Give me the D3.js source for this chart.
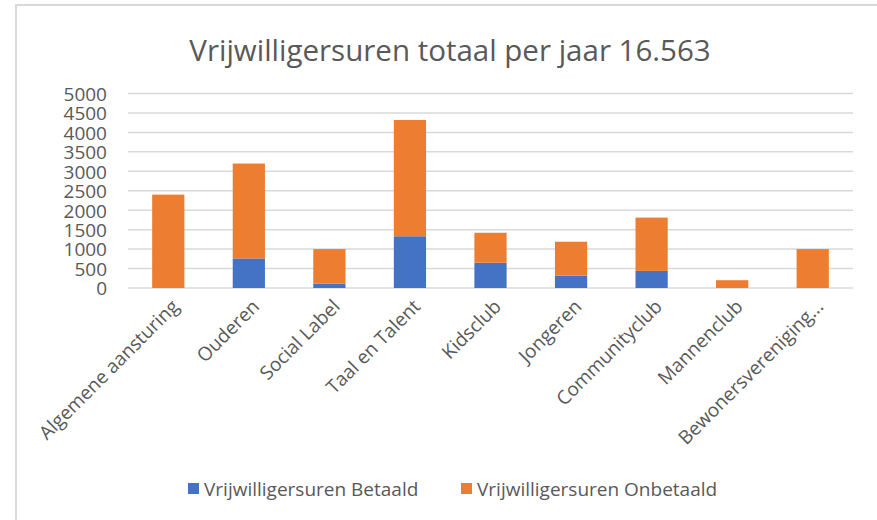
<!DOCTYPE html>
<html>
<head>
<meta charset="utf-8">
<script src="https://cdn.jsdelivr.net/npm/d3@7"></script>
<style>
  body { margin: 0; background: #fff; }
  text { font-family: "Open Sans", sans-serif; fill: #595959; }
</style>
</head>
<body>
<div id="chart"></div>
<script>
const categories = ["Algemene aansturing", "Ouderen", "Social Label", "Taal en Talent", "Kidsclub",
  "Jongeren", "Communityclub", "Mannenclub", "Bewonersvereniging..."];
const betaald = [0, 760, 110, 1330, 650, 320, 440, 0, 0];
const onbetaald = [2400, 2440, 890, 2990, 770, 870, 1370, 200, 1000];
const seriesNames = ["Vrijwilligersuren Betaald", "Vrijwilligersuren Onbetaald"];
const yTicks = d3.range(0, 5001, 500);

const width = 877;
const height = 520;
const margin = { top: 93.5, right: 24, bottom: 232, left: 128 };
const colors = ["#4472C4", "#ED7D31"];

const svg = d3.select("#chart")
  .append("svg")
  .attr("width", width)
  .attr("height", height);

// chart border (only top and left visible)
svg.append("rect")
  .attr("x", 16)
  .attr("y", 5)
  .attr("width", width + 20)
  .attr("height", height + 20)
  .attr("fill", "none")
  .attr("stroke", "#d9d9d9")
  .attr("stroke-width", 2);

svg.append("text")
  .attr("x", 450)
  .attr("y", 61)
  .attr("text-anchor", "middle")
  .style("font-size", "29.5px")
  .text("Vrijwilligersuren totaal per jaar 16.563");

const xScale = d3.scaleBand()
  .domain(categories)
  .range([margin.left, width - margin.right])
  .paddingInner(0.6)
  .paddingOuter(0.3);

const yScale = d3.scaleLinear()
  .domain([0, 5000])
  .range([height - margin.bottom, margin.top]);

// gridlines
svg.append("g")
  .selectAll("line")
  .data(yTicks)
  .enter()
  .append("line")
  .attr("x1", margin.left)
  .attr("x2", width - margin.right)
  .attr("y1", d => yScale(d))
  .attr("y2", d => yScale(d))
  .attr("stroke", "#d9d9d9")
  .attr("stroke-width", 1.5);

const yAxis = d3.axisLeft(yScale)
  .tickValues(yTicks)
  .tickFormat(d3.format("d"))
  .tickSize(0)
  .tickPadding(21);

svg.append("g")
  .attr("transform", `translate(${margin.left}, 0)`)
  .call(yAxis)
  .call(g => g.select(".domain").remove())
  .selectAll("text")
  .style("font-size", "19px")
  .style("font-family", "'Open Sans', sans-serif")
  .style("fill", "#595959")
  .attr("dy", "0.36em");

const rows = categories.map((c, i) => ({ category: c, betaald: betaald[i], onbetaald: onbetaald[i] }));
const stacked = d3.stack().keys(["betaald", "onbetaald"])(rows);

svg.append("g")
  .selectAll("g")
  .data(stacked)
  .enter()
  .append("g")
  .attr("fill", (d, i) => colors[i])
  .selectAll("rect")
  .data(d => d)
  .enter()
  .append("rect")
  .attr("x", d => xScale(d.data.category))
  .attr("y", d => yScale(d[1]))
  .attr("width", xScale.bandwidth())
  .attr("height", d => yScale(d[0]) - yScale(d[1]));

// category labels
svg.append("g")
  .selectAll("text")
  .data(categories)
  .enter()
  .append("text")
  .attr("transform", d => `translate(${xScale(d) + xScale.bandwidth() / 2 + 7}, ${yScale(0) + 15}) rotate(-45)`)
  .attr("text-anchor", "end")
  .attr("dy", "0.35em")
  .style("font-size", "19px")
  .text(d => d);

// legend
const legendX = [188, 461];
const legend = svg.append("g");
seriesNames.forEach((name, i) => {
  legend.append("rect")
    .attr("x", legendX[i])
    .attr("y", 483)
    .attr("width", 11)
    .attr("height", 11)
    .attr("fill", colors[i]);
  legend.append("text")
    .attr("x", legendX[i] + 16)
    .attr("y", 496)
    .style("font-size", "19px")
    .text(name);
});
</script>
</body>
</html>
